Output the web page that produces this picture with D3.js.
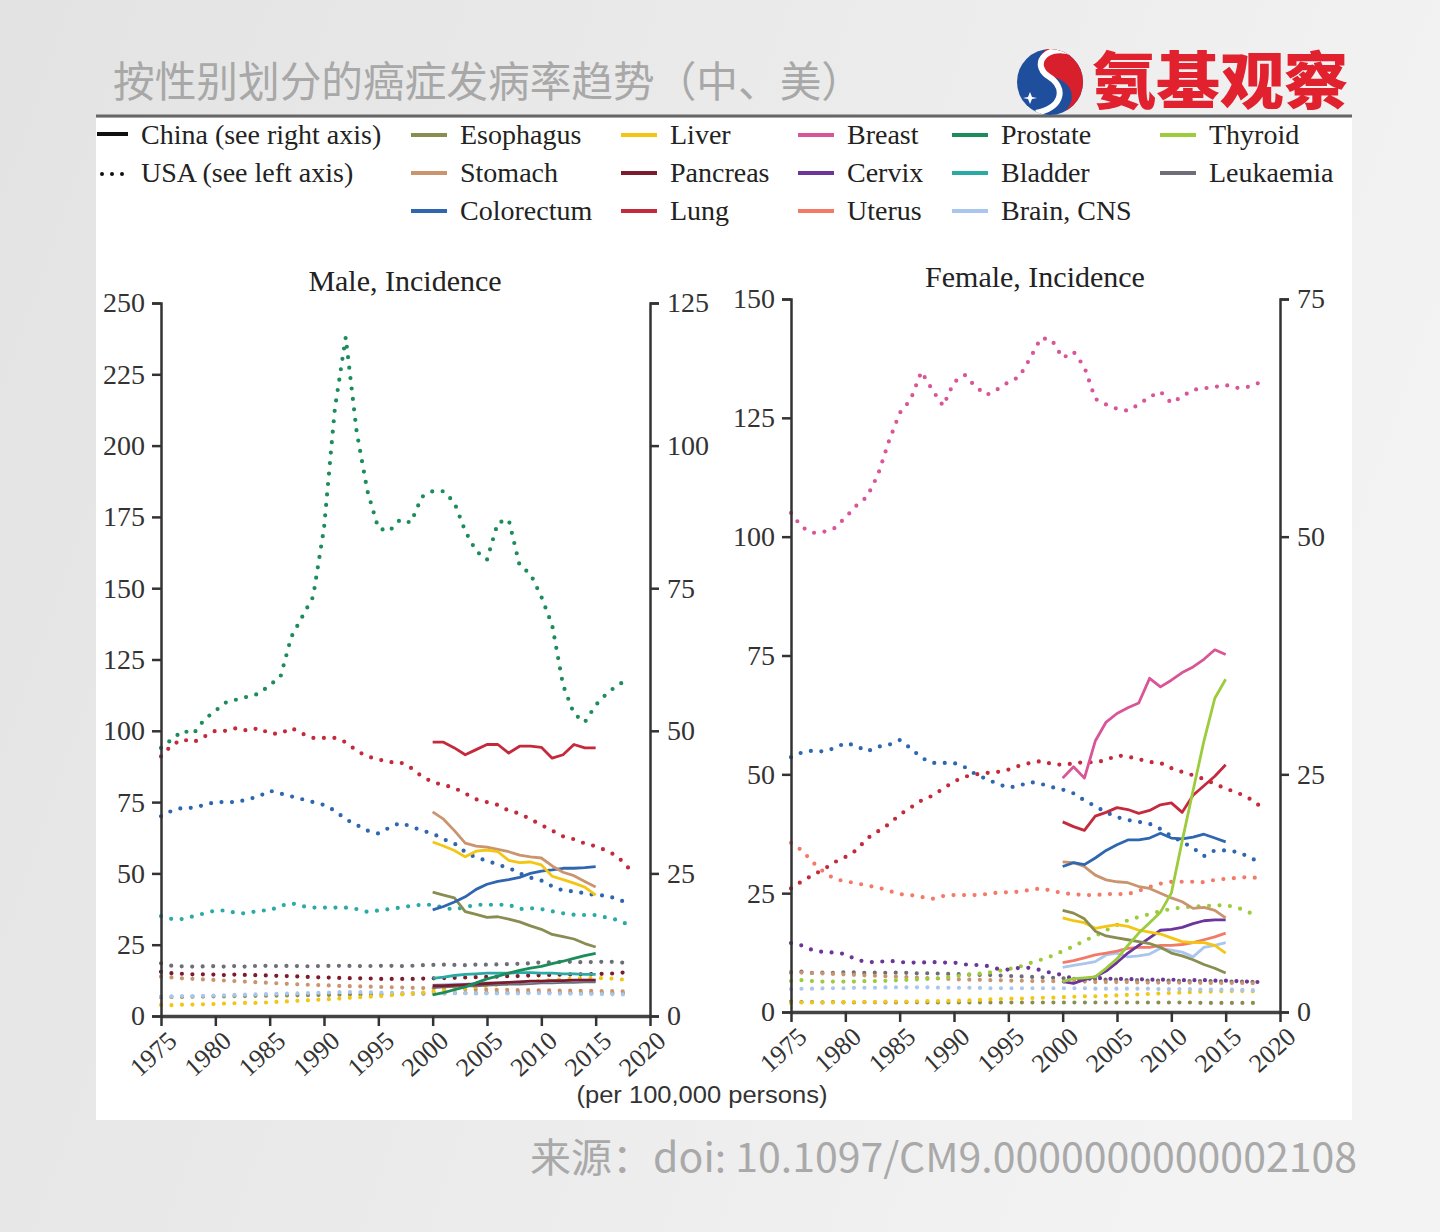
<!DOCTYPE html>
<html><head><meta charset="utf-8">
<script src="https://cdn.jsdelivr.net/npm/d3@7/dist/d3.min.js"></script>
<style>html,body{margin:0;padding:0;background:#ebebeb;}svg{display:block}</style>
</head><body>
<svg id="chart" width="1440" height="1232"></svg>
<script>
// ---------------- DATA ----------------
const usYears = d3.range(1975, 2019);   // 1975..2018
const cnYears = d3.range(2000, 2016);   // 2000..2015
const yearTicks = [1975,1980,1985,1990,1995,2000,2005,2010,2015,2020];
const maleLeftTicks = [0,25,50,75,100,125,150,175,200,225,250];
const maleRightTicks = [0,25,50,75,100,125];
const femaleLeftTicks = [0,25,50,75,100,125,150];
const femaleRightTicks = [0,25,50,75];

const cancerNames = ["Esophagus","Stomach","Colorectum","Liver","Pancreas","Lung","Breast","Cervix","Uterus","Prostate","Bladder","Brain, CNS","Thyroid","Leukaemia"];
const cancerColors = ["#8a8d52","#c9946e","#2f66b0","#f3c613","#7b1b2c","#c42a3b","#d95597","#6b3599","#f47a68","#1b8c5a","#29aaa5","#a9c6ee","#9ccc3c","#6e6e78"];

// USA male (per 100,000, left axis), 1975-2018
const usMaleProstate = [94,97,100,99,104,107,110,111,112,113, 116,119,133,140,147,171,213,238,205,184, 171,170,174,173,182,184,184,180,170,163, 160,173,174,158,155,147,137,116,106,103, 109,113,116,118];
const usMaleLung = [91,95,97,96,98,100,100,101,100,101, 99,99,101,99,97.5,97.5,97.5,96,93,91, 90,89,89,87,84,82,81,80,78,76, 75,74,72,71,69,67,65,63,62,60.5, 59.5,58,56,52];
const usMaleColorectum = [70,72,73,73,74,75,75,75,76,77, 79,78,77,76,75,74,72,69,67,65, 64,66,67.7,66.5,65,64,62,60.5,57.5,55.5, 54.5,53,52,50,48.5,47.5,45.5,44,43.7,43, 42.4,42.2,41,39.5];
const usMaleBladder = [35,34,34,35,36,37,37,36,36,37, 37,38.6,39.6,38.5,38,38,38,38,37.5,36.5, 37,37.5,38,38.6,39,39,38,37.3,38.2,39, 39,39,39,37.5,37.8,37.5,36.7,36,35.5,35.4, 35.4,34.5,33.7,32];
const usMaleLeukaemia = [18.5,17.6,17.4,17.3,17.4,17.5,17.3,17.6,17.2,17.7, 17.5,17.5,17.6,17.4,17.5,17.5,17.6,17.6,17.5,17.5, 17.6,17.6,17.5,17.6,17.8,17.9,18,17.9,17.8,18, 18,18.1,18.2,18.3,18.5,18.8,18.8,19,19,18.8, 19,19,19,18.4];
const usMalePancreas = [15.5,15,14.8,14.6,14.6,14.5,14.3,14.6,14.3,14.3, 14.2,14,14,13.8,13.6,13.5,13.4,13.3,13.2,13.2, 13,13,13,13,13.1,13.2,13.3,13.4,13.5,13.6, 13.7,13.8,14,14,14.2,14.3,14.4,14.5,14.6,14.6, 14.8,14.8,15,15.5];
const usMaleStomach = [13.8,13.5,13.2,13,12.8,12.6,12.4,12.2,12,11.8, 11.6,11.4,11.2,11,10.9,10.8,10.6,10.5,10.4,10.3, 10.2,10.1,10,9.9,9.8,9.7,9.6,9.5,9.4,9.3, 9.3,9.2,9.2,9.1,9.1,9,9,8.9,8.9,8.8, 8.8,8.7,8.7,8.6];
const usMaleEsophagus = [6.6,6.7,6.7,6.8,6.8,6.9,6.9,7,7,7.1, 7.1,7.2,7.2,7.3,7.3,7.4,7.4,7.5,7.5,7.6, 7.6,7.7,7.7,7.8,7.8,7.9,7.9,8,8,8, 8.1,8.1,8.1,8.2,8.2,8.2,8.2,8.1,8.1,8, 8,8,7.9,7.9];
const usMaleLiver = [3.9,3.8,4,4,4.1,4.2,4.4,4.5,4.6,4.6, 4.8,5,5.2,5.4,5.6,5.8,6,6.3,6.5,6.7, 6.9,7.2,7.5,7.8,8.2,8.6,9,9.4,9.8,10.2, 10.6,11,11.3,11.7,12,12.3,12.6,12.9,13.1,13.3, 13.3,13.2,13,12.5];
const usMaleBrain = [6.8,6.9,7,7,7.1,7.2,7.3,7.4,7.5,7.6, 7.7,7.8,7.9,8,8.1,8.2,8.3,8.4,8.4,8.3, 8.2,8.2,8.1,8.1,8.1,8.1,8,8,8,7.9, 7.9,7.9,7.9,7.9,8,8,7.9,7.8,7.8,7.7, 7.7,7.6,7.6,7.5];

// China male (per 100,000, right axis), 2000-2015
const cnMaleLung = [48,48,47,45.8,46.7,47.6,47.6,46.1,47.3,47.3,47.1,45.2,45.8,47.6,47,47];
const cnMaleStomach = [35.8,34.5,32.5,30.3,29.8,29.6,29.2,28.8,28.2,27.9,27.7,26.3,25.2,24.6,23.6,22.6];
const cnMaleLiver = [30.5,29.8,29,27.9,28.9,29.1,28.8,27.3,26.9,27,26.5,24.5,23.9,23.3,22.6,21.2];
const cnMaleColorectum = [18.6,19.2,20,20.9,22.2,23.1,23.6,23.9,24.3,25,25.4,25.6,25.9,25.9,26,26.2];
const cnMaleEsophagus = [21.7,21.2,20.7,18.3,17.8,17.3,17.4,17,16.5,15.8,15.2,14.3,13.9,13.5,12.7,12.1];
const cnMaleProstate = [3.7,4.1,4.6,5.1,5.8,6.5,7,7.5,8,8.4,8.7,9.2,9.6,10.1,10.6,11];
const cnMaleBladder = [6.6,6.8,7.1,7.3,7.4,7.5,7.5,7.5,7.6,7.6,7.5,7.5,7.4,7.4,7.3,7.3];
const cnMalePancreas = [5.3,5.3,5.4,5.5,5.6,5.7,5.8,5.9,6,6.1,6.1,6.2,6.2,6.3,6.3,6.3];
const cnMaleLeukaemia = [5,5.1,5.2,5.3,5.3,5.4,5.5,5.6,5.6,5.7,5.8,5.8,5.9,5.9,6,6];
const cnMaleBrain = [5.4,5.5,5.6,5.6,5.7,5.8,5.8,5.9,6,6,6.1,6.1,6.2,6.2,6.3,6.3];

// USA female (per 100,000, left axis), 1975-2018
const usFemaleBreast = [105,102,100.8,101,101.8,104,106.5,108.4,113,120, 126,128.8,134.7,130.9,127.5,132.5,134,131.5,129.8,131, 132.5,133.6,137.5,141.8,141.4,137.6,138.9,135.7,129,127.8, 126.9,126.5,127.8,129.4,130.5,128.1,129.5,130.9,131.2,131.5, 131.9,131.3,131.5,132.3];
const usFemaleLung = [26,27.5,28.8,30,31.5,32.6,34,36.5,38,39.5, 41.5,43,44.5,45.5,47,48.5,49.5,50,50.3,50.5, 51,51.8,52.4,52.8,52.2,52,52.3,52.6,52.5,53, 54,53.7,53.2,52.6,52.4,51.3,50.5,49.8,49,48, 47,46.2,45.2,43.6];
const usFemaleColorectum = [53.6,54.6,55,54.8,55.5,56.6,56,54.8,55.8,56.2, 57.2,55.5,53.5,52.4,52.4,52.4,51.5,50,49,48, 47.2,47.6,48.4,48,47.3,46.8,46,44.5,43.3,42, 41,40.4,40,39.6,38.5,37,35.8,34.5,32.8,34, 34,33.7,32.8,31.6];
const usFemaleUterus = [35.6,34,31.5,29.5,28,27.5,27.1,26.6,26.2,25.5, 24.8,24.6,24.2,23.8,24.4,24.6,24.6,24.6,24.8,25.1, 25.2,25.3,25.7,26,25.5,25,24.8,24.6,24.6,24.8, 24.8,24.8,25.5,26.3,27,27.4,27.4,27.4,27.3,27.8, 28,28.2,28.4,28.2];
const usFemaleCervix = [14.5,14,13,12.6,12.5,12.2,11,10.5,10.5,10.8, 10.5,10.4,10.4,10.5,10.4,10.4,10,9.9,9.7,9.1, 8.9,9.3,9.3,8.8,8.2,7.8,6.9,6.8,7.2,7, 7,6.9,6.9,6.8,6.8,6.8,6.7,6.7,6.7,6.6, 6.6,6.5,6.4,6.3];
const usFemaleThyroid = [6.5,6.7,6.5,6.4,6.4,6.4,6.4,6.5,6.5,6.6, 6.7,6.8,6.9,7,7.2,7.5,7.8,8,8.2,8.6, 9,9.5,10.3,11,11.8,12.8,13.8,15,16,17.2, 18.3,19.3,20,20.6,21.2,21.7,22,22.2,22.3,22.4, 22.5,22,21.2,19.8];
const usFemaleStomach = [8.4,8.3,8.2,8.1,8,7.9,7.8,7.7,7.6,7.5, 7.4,7.3,7.2,7.1,7,6.9,6.8,6.8,6.7,6.7, 6.6,6.6,6.5,6.5,6.5,6.4,6.4,6.4,6.3,6.3, 6.3,6.3,6.2,6.2,6.2,6.2,6.2,6.2,6.1,6.1, 6.1,6.1,6.1,6];
const usFemaleLeukaemia = [8.3,8.5,8.2,8.3,8.2,8.4,8.3,8.2,8.3,8.2, 8.3,8.2,8.1,8.2,8,8,7.9,7.8,7.8,7.7, 7.6,7.5,7.4,7.3,7.2,7.1,7,6.9,6.9,6.8, 6.8,6.7,6.7,6.6,6.6,6.6,6.5,6.5,6.5,6.5, 6.4,6.4,6.4,6.3];
const usFemaleBrain = [4.8,4.9,4.9,5,5,5,5.1,5.1,5.1,5.2, 5.2,5.2,5.2,5.2,5.1,5.1,5.1,5.1,5,5, 5,5,5,5,5,5,5,5,4.9,4.9, 4.9,4.9,4.9,4.9,4.8,4.8,4.8,4.8,4.7,4.7, 4.7,4.7,4.6,4.6];
const usFemaleLiver = [1.9,2,2,2,2,2.1,2.1,2.1,2.1,2.2, 2.2,2.2,2.3,2.3,2.3,2.4,2.4,2.5,2.6,2.7, 2.8,2.8,2.9,3,3,3.1,3.2,3.3,3.3,3.4, 3.5,3.6,3.7,3.8,3.9,4,4.1,4.2,4.3,4.3, 4.4,4.4,4.4,4.3];
const usFemaleEsophagus = [2.2,2.1,2.1,2,2.1,2,2,2.1,2,2, 2,2.1,2,2,2,2,2,2,2,2, 2,2,2,2,2,2,2,2,2,2, 2,2,2,2,2,2,2,2,1.9,1.9, 1.9,1.9,1.9,1.9];

// China female (per 100,000, right axis), 2000-2015
const cnFemaleBreast = [24.6,25.8,24.6,28.5,30.5,31.4,32,32.5,35.1,34.2,34.9,35.7,36.3,37.1,38.1,37.6];
const cnFemaleThyroid = [3.2,3.5,3.6,3.7,4.6,5.6,7,8.3,9.4,10.5,12.5,18,23.3,28.5,33,35];
const cnFemaleLung = [20,19.5,19.1,20.6,21,21.5,21.3,20.9,21.2,21.8,22,21,22.8,23.8,24.8,26];
const cnFemaleColorectum = [15.3,15.7,15.5,16.2,17,17.6,18.1,18.1,18.3,18.8,18.3,18.2,18.4,18.7,18.3,17.9];
const cnFemaleStomach = [15.8,15.7,15.3,14.4,13.9,13.7,13.6,13.2,13,12.5,12,11.6,10.9,11,10.7,9.9];
const cnFemaleEsophagus = [10.7,10.4,9.8,8.5,8,7.8,7.6,7.4,7.2,6.8,6.2,5.9,5.5,5,4.6,4.1];
const cnFemaleLiver = [9.9,9.6,9.4,8.8,9,9.2,9,8.6,8.4,8.2,7.8,7.4,7.3,7.3,7,6.2];
const cnFemaleCervix = [3.2,3,3.4,3.7,4.3,5.2,6.2,7,7.8,8.6,8.7,8.9,9.3,9.6,9.7,9.7];
const cnFemaleUterus = [5.2,5.4,5.7,6,6.2,6.4,6.7,6.8,6.8,7,7,7.1,7.3,7.6,7.9,8.3];
const cnFemaleBrain = [4.7,4.9,5.1,5.3,6,6.2,5.8,5.9,6.1,6.7,6.5,6.3,5.8,6.8,7,7.3];

// ---------------- DRAWING ----------------
const color = d3.scaleOrdinal(cancerNames, cancerColors);
const SERIF = "'Liberation Serif','Times New Roman',serif";
const SANS = "'Liberation Sans',Arial,sans-serif";
const CJK = "'Noto Sans CJK SC','Noto Sans',sans-serif";

const svg = d3.select("#chart");
const defs = svg.append("defs");
const bg = defs.append("linearGradient").attr("id","bg").attr("x1",0).attr("x2",1).attr("y1",0).attr("y2",0.3);
bg.append("stop").attr("offset",0).attr("stop-color","#e3e3e3");
bg.append("stop").attr("offset",0.6).attr("stop-color","#ececec");
bg.append("stop").attr("offset",1).attr("stop-color","#f3f3f3");
svg.append("rect").attr("width",1440).attr("height",1232).attr("fill","url(#bg)");

// header
svg.append("text").attr("x",113).attr("y",97).attr("font-family",CJK).attr("font-size",42)
  .attr("fill","#a8a8a8").attr("textLength",750).attr("lengthAdjust","spacingAndGlyphs")
  .text("按性别划分的癌症发病率趋势（中、美）");
svg.append("rect").attr("x",96).attr("y",118).attr("width",1256).attr("height",1002).attr("fill","#fff");
svg.append("line").attr("x1",96).attr("x2",1352).attr("y1",116).attr("y2",116).attr("stroke","#666").attr("stroke-width",3);

// logo
const logo = svg.append("g");
defs.append("clipPath").attr("id","lc").append("circle").attr("cx",1050).attr("cy",82).attr("r",33);
const lg = logo.append("g").attr("clip-path","url(#lc)");
lg.append("rect").attr("x",1015).attr("y",47).attr("width",70).attr("height",70).attr("fill","#1f4f9c");
lg.append("path").attr("d","M1015,47 H1085 V117 H1058 C1080,103 1074,81 1052,77 C1036,74 1034,61 1046,49 Z").attr("fill","#d7202b");
lg.append("path").attr("d","M1074,53 C1048,43 1030,63 1048,76 C1066,87 1064,107 1036,113").attr("fill","none").attr("stroke","#fff").attr("stroke-width",6);
lg.append("path").attr("d","M1030,92 l2,5 5,1 -5,1 -2,5 -2,-5 -5,-1 5,-1 z").attr("fill","#fff");
svg.append("text").attr("x",1092).attr("y",104).attr("font-family",CJK).attr("font-weight",900)
  .attr("font-size",62).attr("fill","#e1222e").attr("textLength",256).attr("lengthAdjust","spacingAndGlyphs").text("氨基观察");

// legend
const legend = svg.append("g").attr("font-family",SERIF).attr("font-size",28).attr("fill","#222");
const rowY = [135,173,211];
legend.append("line").attr("x1",97).attr("x2",128).attr("y1",134).attr("y2",134).attr("stroke","#111").attr("stroke-width",4);
legend.append("text").attr("x",141).attr("y",rowY[0]+9).text("China (see right axis)");
legend.append("line").attr("x1",102).attr("x2",124).attr("y1",174).attr("y2",174).attr("stroke","#111")
  .attr("stroke-width",4).attr("stroke-linecap","round").attr("stroke-dasharray","0 10");
legend.append("text").attr("x",141).attr("y",rowY[1]+9).text("USA (see left axis)");
const colX = [411,621,798,952,1160];
cancerNames.forEach((n,i)=>{
  const cx = colX[Math.floor(i/3)], cy = rowY[i%3];
  legend.append("line").attr("x1",cx).attr("x2",cx+36).attr("y1",cy).attr("y2",cy).attr("stroke",color(n)).attr("stroke-width",4);
  legend.append("text").attr("x",cx+49).attr("y",cy+9).text(n);
});

function drawPanel(p){
  const x = d3.scaleLinear([1975,2020],[p.x0,p.x1]);
  const yL = d3.scaleLinear([0,p.leftMax],[p.yBot,p.yTop]);
  const yR = d3.scaleLinear([0,p.rightMax],[p.yBot,p.yTop]);
  const g = svg.append("g");
  const styleAxis = a => {
    a.selectAll("path,line").attr("stroke","#333").attr("stroke-width",2.5);
    a.selectAll("text").attr("font-family",SERIF).attr("font-size",28).attr("fill","#333");
  };
  const lineUS = vals => d3.line().x((d,i)=>x(usYears[i])).y(d=>yL(d))(vals);
  const lineCN = vals => d3.line().x((d,i)=>x(cnYears[i])).y(d=>yR(d))(vals);
  p.us.forEach(s=>{
    g.append("path").attr("d",lineUS(s.values)).attr("fill","none").attr("stroke",color(s.name))
      .attr("stroke-width",4.2).attr("stroke-linecap","round").attr("stroke-dasharray","0 10.5");
  });
  p.cn.forEach(s=>{
    g.append("path").attr("d",lineCN(s.values)).attr("fill","none").attr("stroke",color(s.name))
      .attr("stroke-width",2.8).attr("stroke-linejoin","round");
  });
  const ax = svg.append("g").attr("transform",`translate(0,${p.yBot})`)
    .call(d3.axisBottom(x).tickValues(yearTicks).tickFormat(d3.format("d")).tickSize(10).tickSizeOuter(0));
  styleAxis(ax);
  ax.select(".domain").attr("stroke-width",3.5).attr("stroke","#444");
  ax.selectAll("text").attr("text-anchor","end").attr("x",null).attr("y",null).attr("dy",null)
    .attr("font-size",26).attr("transform","translate(17,27) rotate(-42)");
  const al = svg.append("g").attr("transform",`translate(${p.x0},0)`)
    .call(d3.axisLeft(yL).tickValues(p.leftTicks).tickSize(9).tickPadding(7));
  styleAxis(al);
  const ar = svg.append("g").attr("transform",`translate(${p.x1},0)`)
    .call(d3.axisRight(yR).tickValues(p.rightTicks).tickSize(9).tickPadding(8));
  styleAxis(ar);
  svg.append("text").attr("x",p.titleX).attr("y",p.titleY).attr("text-anchor","middle")
    .attr("font-family",SERIF).attr("font-size",30).attr("fill","#222").text(p.title);
}

drawPanel({
  x0:161, x1:650, yTop:303, yBot:1016, leftMax:250, rightMax:125,
  leftTicks:maleLeftTicks, rightTicks:maleRightTicks,
  title:"Male, Incidence", titleX:405, titleY:291,
  us:[
    {name:"Esophagus",values:usMaleEsophagus},{name:"Stomach",values:usMaleStomach},
    {name:"Brain, CNS",values:usMaleBrain},{name:"Liver",values:usMaleLiver},
    {name:"Leukaemia",values:usMaleLeukaemia},{name:"Pancreas",values:usMalePancreas},
    {name:"Bladder",values:usMaleBladder},{name:"Colorectum",values:usMaleColorectum},
    {name:"Lung",values:usMaleLung},{name:"Prostate",values:usMaleProstate}
  ],
  cn:[
    {name:"Leukaemia",values:cnMaleLeukaemia},{name:"Brain, CNS",values:cnMaleBrain},
    {name:"Pancreas",values:cnMalePancreas},{name:"Bladder",values:cnMaleBladder},
    {name:"Prostate",values:cnMaleProstate},{name:"Esophagus",values:cnMaleEsophagus},
    {name:"Colorectum",values:cnMaleColorectum},{name:"Stomach",values:cnMaleStomach},
    {name:"Liver",values:cnMaleLiver},{name:"Lung",values:cnMaleLung}
  ]
});

drawPanel({
  x0:791, x1:1280, yTop:299, yBot:1012, leftMax:150, rightMax:75,
  leftTicks:femaleLeftTicks, rightTicks:femaleRightTicks,
  title:"Female, Incidence", titleX:1035, titleY:287,
  us:[
    {name:"Esophagus",values:usFemaleEsophagus},{name:"Liver",values:usFemaleLiver},
    {name:"Brain, CNS",values:usFemaleBrain},{name:"Leukaemia",values:usFemaleLeukaemia},
    {name:"Stomach",values:usFemaleStomach},{name:"Thyroid",values:usFemaleThyroid},
    {name:"Cervix",values:usFemaleCervix},{name:"Uterus",values:usFemaleUterus},
    {name:"Colorectum",values:usFemaleColorectum},{name:"Lung",values:usFemaleLung},
    {name:"Breast",values:usFemaleBreast}
  ],
  cn:[
    {name:"Brain, CNS",values:cnFemaleBrain},{name:"Uterus",values:cnFemaleUterus},
    {name:"Cervix",values:cnFemaleCervix},{name:"Liver",values:cnFemaleLiver},
    {name:"Esophagus",values:cnFemaleEsophagus},{name:"Stomach",values:cnFemaleStomach},
    {name:"Colorectum",values:cnFemaleColorectum},{name:"Lung",values:cnFemaleLung},
    {name:"Breast",values:cnFemaleBreast},{name:"Thyroid",values:cnFemaleThyroid}
  ]
});

svg.append("text").attr("x",702).attr("y",1103).attr("text-anchor","middle").attr("font-family",SANS)
  .attr("font-size",23).attr("fill","#333").attr("textLength",251).attr("lengthAdjust","spacingAndGlyphs")
  .text("(per 100,000 persons)");
svg.append("text").attr("x",1357).attr("y",1172).attr("text-anchor","end").attr("font-family",CJK)
  .attr("font-size",40).attr("fill","#a9a9a9").attr("textLength",827).attr("lengthAdjust","spacingAndGlyphs")
  .text("来源：doi: 10.1097/CM9.0000000000002108");
</script>
</body></html>
